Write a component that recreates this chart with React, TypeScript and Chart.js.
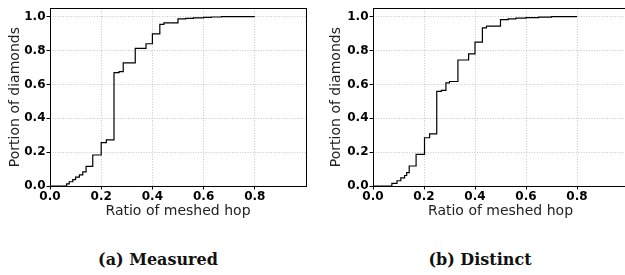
import React, { useEffect, useRef } from "react";
import { Chart, registerables } from "chart.js";

Chart.register(...registerables);

// ---- data ----
const xTickVals = [0, 0.2, 0.4, 0.6, 0.8];
const yTickVals = [0, 0.2, 0.4, 0.6, 0.8, 1.0];

const measuredX = [0, 0.045, 0.065, 0.075, 0.089, 0.1, 0.115, 0.128, 0.141, 0.167, 0.2, 0.22, 0.25, 0.27, 0.286, 0.333, 0.375, 0.4, 0.429, 0.445, 0.5, 0.53, 0.56, 0.6, 0.63, 0.67, 0.8];
const measuredY = [0, 0, 0.012, 0.025, 0.038, 0.052, 0.066, 0.083, 0.116, 0.183, 0.256, 0.272, 0.67, 0.675, 0.727, 0.813, 0.84, 0.898, 0.954, 0.963, 0.987, 0.99, 0.993, 0.996, 0.998, 1.0, 1.0];

const distinctX = [0, 0.05, 0.074, 0.094, 0.109, 0.124, 0.132, 0.142, 0.169, 0.202, 0.222, 0.25, 0.268, 0.286, 0.3, 0.333, 0.375, 0.4, 0.429, 0.445, 0.5, 0.53, 0.56, 0.6, 0.65, 0.7, 0.8];
const distinctY = [0, 0, 0.015, 0.031, 0.048, 0.062, 0.079, 0.118, 0.187, 0.285, 0.308, 0.559, 0.565, 0.609, 0.617, 0.744, 0.78, 0.85, 0.934, 0.944, 0.983, 0.987, 0.991, 0.994, 0.997, 1.0, 1.0];

const xTitle = "Ratio of meshed hop";
const yTitle = "Portion of diamonds";
const captions = ["(a) Measured", "(b) Distinct"];

const boxPlugin = {
  id: "boxPlugin",
  afterDraw(chart: any) {
    const { ctx, chartArea: a } = chart;
    ctx.save();
    ctx.strokeStyle = "#000";
    ctx.lineWidth = 1;
    ctx.strokeRect(Math.round(a.left) + 0.5, Math.round(a.top) + 0.5, Math.round(a.right - a.left), Math.round(a.bottom - a.top));
    ctx.restore();
  },
};

type Props = {
  xs: number[];
  ys: number[];
  left: number;
  width: number;
  height: number;
  axisWidth: number;
  padRight: number;
  titlePad: number;
};

function CdfChart({ xs, ys, left, width, height, axisWidth, padRight, titlePad }: Props) {
  const ref = useRef<HTMLCanvasElement>(null);
  useEffect(() => {
    if (!ref.current) return;
    const tickFont = { family: "DejaVu Sans", size: 12, weight: "bold" as const };
    const titleFont = { family: "DejaVu Sans", size: 14 };
    const gridCommon = {
      color: "#b8b8b8",
      lineWidth: 0.8,
      tickColor: "#000",
      tickLength: 3.5,
      tickWidth: 1,
      tickBorderDash: [],
    };
    const chart = new Chart(ref.current, {
      type: "line",
      data: {
        datasets: [
          {
            data: xs.map((x, i) => ({ x, y: ys[i] })),
            stepped: true,
            borderColor: "#000",
            borderWidth: 1.2,
            pointRadius: 0,
            fill: false,
          },
        ],
      },
      options: {
        animation: false,
        responsive: false,
        devicePixelRatio: 1,
        layout: { padding: { left: 0, top: 4, right: padRight, bottom: 0 } },
        plugins: { legend: { display: false }, tooltip: { enabled: false } },
        scales: {
          x: {
            type: "linear",
            min: 0,
            max: 1,
            afterBuildTicks: (s: any) => {
              s.ticks = xTickVals.map((v) => ({ value: v }));
            },
            afterFit: (s: any) => {
              s.height = height - 186;
            },
            ticks: {
              font: tickFont,
              color: "#000",
              padding: 0,
              maxRotation: 0,
              autoSkip: false,
              callback: (v: any) => Number(v).toFixed(1),
            },
            grid: gridCommon,
            border: { display: false, dash: [1, 1.6] },
            title: { display: true, text: xTitle, font: titleFont, color: "#222", padding: { top: 0, bottom: 5 } },
          },
          y: {
            type: "linear",
            min: 0,
            max: 1.05,
            afterBuildTicks: (s: any) => {
              s.ticks = yTickVals.map((v) => ({ value: v }));
            },
            afterFit: (s: any) => {
              s.width = axisWidth;
            },
            ticks: {
              font: tickFont,
              color: "#000",
              padding: 1,
              autoSkip: false,
              callback: (v: any) => Number(v).toFixed(1),
            },
            grid: gridCommon,
            border: { display: false, dash: [1, 1.6] },
            title: { display: true, text: yTitle, font: titleFont, color: "#222", padding: { top: titlePad, bottom: 0 } },
          },
        },
      },
      plugins: [boxPlugin],
    });
    return () => chart.destroy();
  }, []);
  return (
    <canvas
      ref={ref}
      width={width}
      height={height}
      style={{ position: "absolute", left, top: 0, width, height }}
    />
  );
}

export default function App() {
  const capStyle: React.CSSProperties = {
    position: "absolute",
    top: 252,
    width: 300,
    textAlign: "center",
    fontFamily: "DejaVu Serif",
    fontWeight: "bold",
    fontSize: 16,
    lineHeight: "16px",
    color: "#111",
    whiteSpace: "nowrap",
  };
  return (
    <div style={{ position: "absolute", left: 0, top: 0, width: 625, height: 275, overflow: "hidden", background: "#fff" }}>
      <CdfChart xs={measuredX} ys={measuredY} left={0} width={310} height={225} axisWidth={50} padRight={4} titlePad={7} />
      <CdfChart xs={distinctX} ys={distinctY} left={310} width={330} height={225} axisWidth={63} padRight={12} titlePad={18} />
      <div style={{ ...capStyle, left: 158 - 150 }}>{captions[0]}</div>
      <div style={{ ...capStyle, left: 480 - 150 }}>{captions[1]}</div>
    </div>
  );
}
